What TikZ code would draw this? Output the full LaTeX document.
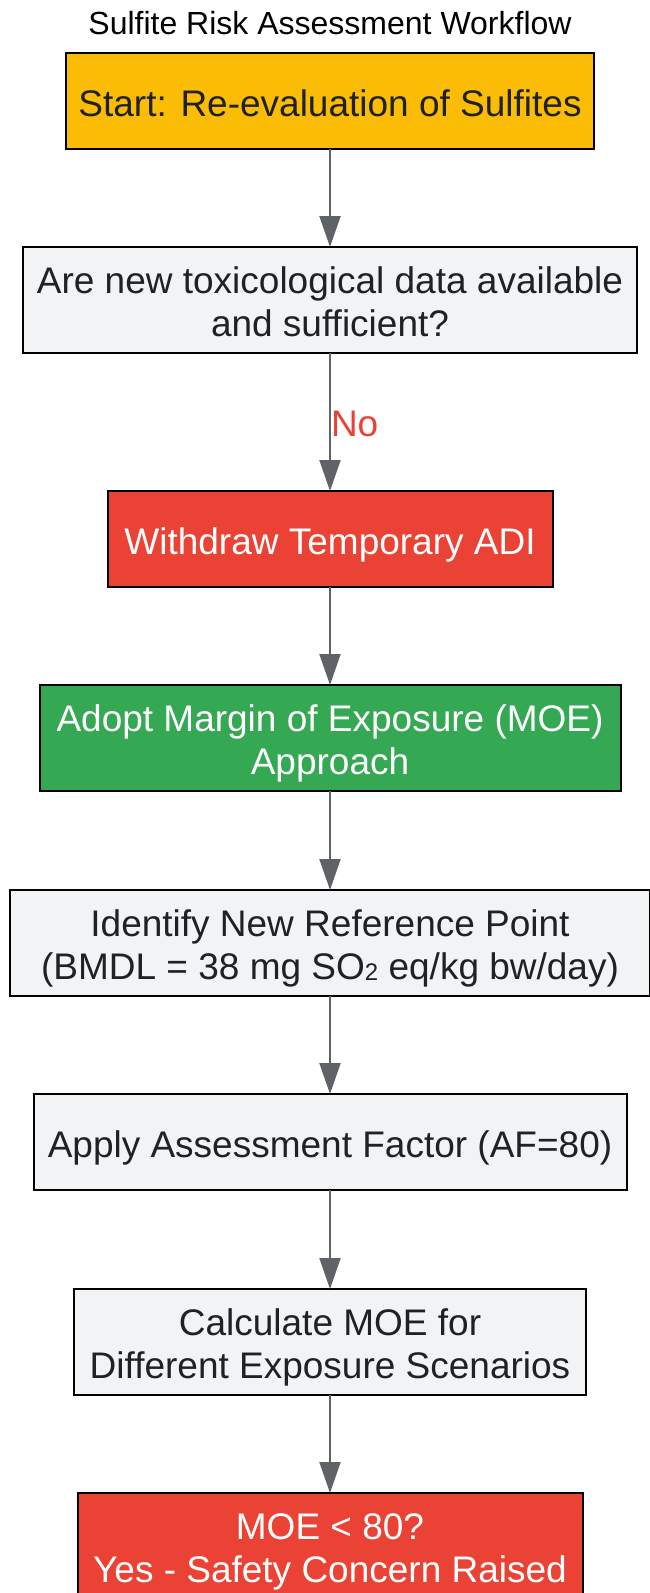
\documentclass[tikz,border=0pt]{standalone}
\usepackage{fontspec}
\setmainfont{Liberation Sans}
\usetikzlibrary{positioning,arrows.meta}

\definecolor{startyellow}{HTML}{FBBC05}
\definecolor{boxgray}{HTML}{F1F3F4}
\definecolor{stopred}{HTML}{EA4335}
\definecolor{gogreen}{HTML}{34A853}
\definecolor{linegray}{HTML}{5F6368}
\definecolor{inkdark}{HTML}{202124}

\newcommand{\subtwo}{\raisebox{-1.5pt}{\fontsize{24}{24}\selectfont 2}}
\newcommand{\topstrut}[1]{\rule{0pt}{#1}}
\newcommand{\bottomstrut}{\rule[-7.8pt]{0pt}{7.8pt}}
\newcommand{\twolines}[2]{\topstrut{37pt}#1\\#2}

\begin{document}
\begin{tikzpicture}[x=1pt, y=1pt, line width=2pt,
  stepbox/.style={draw=black, fill=boxgray, text=inkdark, align=center,
    font=\fontsize{37}{43}\selectfont, inner xsep=6pt, inner ysep=0pt,
    outer sep=0pt, minimum height=96pt,
    execute at begin node={\topstrut{38.5pt}}, execute at end node={\bottomstrut}},
  twoline/.style={minimum height=106pt},
  whitetext/.style={text=white},
  flow/.style={draw=linegray, -{Triangle[length=31pt,width=21pt]}},
  node distance=98pt]

  \useasboundingbox (0,0) rectangle (649,-1593);

  \node (title) at (330,-23) {\fontsize{32}{38}\selectfont Sulfite Risk Assessment Workflow};

  \node[stepbox, fill=startyellow, minimum width=528pt] (start) at (330,-101)
    {Start: Re-evaluation of Sulfites};
  \node[stepbox, twoline, minimum width=614pt, below=of start] (newdata)
    {\twolines{Are new toxicological data available}{and sufficient?}};
  \node[stepbox, whitetext, fill=stopred, minimum width=445pt, below=138pt of newdata] (withdraw)
    {Withdraw Temporary ADI};
  \node[stepbox, twoline, whitetext, fill=gogreen, minimum width=581pt, below=of withdraw] (adopt)
    {\twolines{Adopt Margin of Exposure (MOE)}{Approach}};
  \node[stepbox, twoline, minimum width=640pt, below=99pt of adopt] (refpoint)
    {\twolines{Identify New Reference Point}{(BMDL = 38 mg SO\subtwo{} eq/kg bw/day)}};
  \node[stepbox, minimum width=593pt, below=of refpoint] (factor)
    {Apply Assessment Factor (AF=80)};
  \node[stepbox, twoline, minimum width=512pt, below=99pt of factor] (calc)
    {\twolines{Calculate MOE for}{Different Exposure Scenarios}};
  \node[stepbox, twoline, whitetext, fill=stopred, minimum width=505pt, below=of calc] (concern)
    {\twolines{MOE < 80?}{Yes - Safety Concern Raised}};

  \draw[flow] (start) -- (newdata);
  \draw[flow] (newdata) -- node[anchor=west, inner xsep=0pt, text=stopred,
    font=\fontsize{37}{43}\selectfont, yshift=-2pt] (nolabel) {No} (withdraw);
  \draw[flow] (withdraw) -- (adopt);
  \draw[flow] (adopt) -- (refpoint);
  \draw[flow] (refpoint) -- (factor);
  \draw[flow] (factor) -- (calc);
  \draw[flow] (calc) -- (concern);

\end{tikzpicture}
\end{document}
